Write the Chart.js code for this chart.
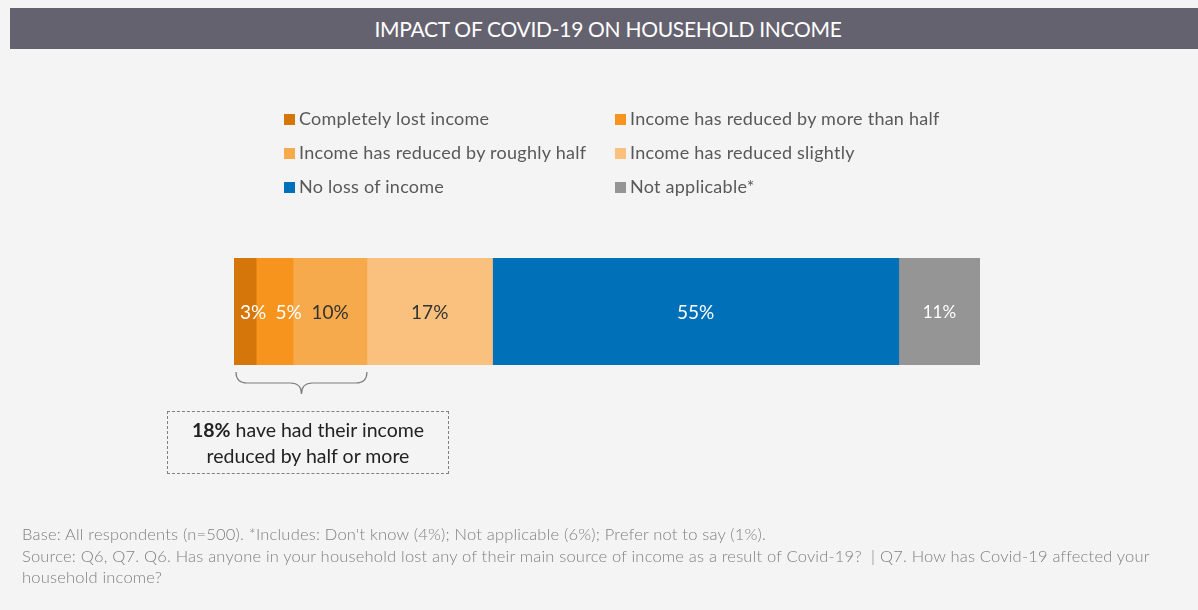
<!DOCTYPE html>
<html>
<head>
<meta charset="utf-8">
<script src="https://cdn.jsdelivr.net/npm/chart.js@4.4.1/dist/chart.umd.min.js"></script>
<style>
  html, body { margin: 0; padding: 0; background: #f4f4f4; }
  #wrap { position: relative; width: 1198px; height: 610px; overflow: hidden; font-family: Lato, "Open Sans", sans-serif; }
  #chart { position: absolute; left: 0; top: 0; }
  #title { position: absolute; left: 10px; top: 8px; width: 1188px; height: 41px; background: #65626f;
    color: #fff; font-size: 21px; letter-spacing: -0.3px; line-height: 42px; text-align: center; text-indent: 8px; }
  #legend { position: absolute; left: 284px; top: 107px; width: 700px; }
  .item { position: absolute; font-size: 18px; letter-spacing: 0.25px; color: #595959; white-space: nowrap; line-height: 22px; }
  .item span { display: inline-block; width: 11px; height: 11px; margin-right: 4px; vertical-align: 0px; }
  #note { position: absolute; left: 167px; top: 411px; width: 280px; height: 56px; border: 1.5px dashed #808080;
    font-size: 19.5px; color: #222; text-align: center; line-height: 26px; padding-top: 5px; box-sizing: content-box; }
  #note b { font-weight: 700; }
  #foot { position: absolute; left: 22px; top: 524px; width: 1170px; font-size: 16.5px; letter-spacing: 0.2px; color: #808080; line-height: 21.5px; font-weight: 300; white-space: nowrap; }
</style>
</head>
<body>
<div id="wrap">
  <canvas id="chart" width="1198" height="610"></canvas>
  <div id="title">IMPACT OF COVID-19 ON HOUSEHOLD INCOME</div>
  <div id="legend"></div>
  <div id="note"><b>18%</b> have had their income<br>reduced by half or more</div>
  <div id="foot">Base: All respondents (n=500). *Includes: Don't know (4%); Not applicable (6%); Prefer not to say (1%).<br>Source: Q6, Q7. Q6. Has anyone in your household lost any of their main source of income as a result of Covid-19? &nbsp;| Q7. How has Covid-19 affected your<br>household income?</div>
</div>
<script>
const CATEGORIES = ["Household income"];
const SERIES = [
    "Completely lost income",
    "Income has reduced by more than half",
    "Income has reduced by roughly half",
    "Income has reduced slightly",
    "No loss of income",
    "Not applicable*",
];
const VALUES = [3, 5, 10, 17, 55, 11];
const VALUE_LABELS = ["3%", "5%", "10%", "17%", "55%", "11%"];
const REDUCED_HALF_OR_MORE = 18;

const COLORS = [
    "#d4760a", // dark orange
    "#f7941d", // orange
    "#f7aa4c", // light orange
    "#fac07d", // pale orange
    "#0070b9", // blue
    "#959595", // gray
];
const LABEL_COLORS = ["#fff", "#fff", "#333", "#333", "#fff", "#fff"];
const LABEL_SHIFT = [8, 14, 0, 0, 0, 0]; // small segments push their labels right

// legend in two columns, filled row by row
const legend = document.getElementById("legend");
SERIES.forEach((name, i) => {
    const div = document.createElement("div");
    div.className = "item";
    div.style.left = (i % 2 === 0 ? 0 : 331) + "px";
    div.style.top = (Math.floor(i / 2) * 34) + "px";
    div.innerHTML = `<span style="background:${COLORS[i]}"></span>${name}`;
    legend.appendChild(div);
});

const total = VALUES.reduce((a, b) => a + b, 0);

const barLabels = {
    id: "barLabels",
    afterDatasetsDraw(chart) {
        const ctx = chart.ctx;
        ctx.save();
        ctx.textAlign = "center";
        ctx.textBaseline = "middle";
        chart.data.datasets.forEach((ds, i) => {
            const bar = chart.getDatasetMeta(i).data[0];
            const cx = (bar.x + bar.base) / 2 + LABEL_SHIFT[i];
            ctx.fillStyle = LABEL_COLORS[i];
            ctx.font = (i === 5 ? "17px" : "19px") + " Lato, sans-serif";
            ctx.fillText(VALUE_LABELS[i], cx, bar.y + 1);
        });

        // curly bracket under the "half or more" segments
        const x0 = chart.scales.x.getPixelForValue(0) + 2;
        const x1 = chart.scales.x.getPixelForValue(REDUCED_HALF_OR_MORE);
        const mid = (x0 + x1) / 2;
        const top = chart.chartArea.bottom + 7;
        const r = 11;
        ctx.strokeStyle = "#7f7f7f";
        ctx.lineWidth = 1.2;
        ctx.beginPath();
        ctx.moveTo(x0, top);
        ctx.quadraticCurveTo(x0, top + r, x0 + r, top + r);
        ctx.lineTo(mid - r, top + r);
        ctx.quadraticCurveTo(mid, top + r, mid, top + 2 * r);
        ctx.quadraticCurveTo(mid, top + r, mid + r, top + r);
        ctx.lineTo(x1 - r, top + r);
        ctx.quadraticCurveTo(x1, top + r, x1, top);
        ctx.stroke();
        ctx.restore();
    }
};

new Chart(document.getElementById("chart"), {
    type: "bar",
    data: {
        labels: CATEGORIES,
        datasets: SERIES.map((name, i) => ({
            label: name,
            data: [VALUES[i]],
            backgroundColor: COLORS[i],
            barPercentage: 1,
            categoryPercentage: 1,
        })),
    },
    options: {
        indexAxis: "y",
        responsive: false,
        animation: false,
        devicePixelRatio: 1,
        layout: { padding: { left: 234, right: 218, top: 258, bottom: 245 } },
        scales: {
            x: { stacked: true, min: 0, max: total, display: false },
            y: { stacked: true, display: false },
        },
        plugins: {
            legend: { display: false },
            tooltip: { enabled: false },
        },
    },
    plugins: [barLabels],
});
</script>
</body>
</html>
